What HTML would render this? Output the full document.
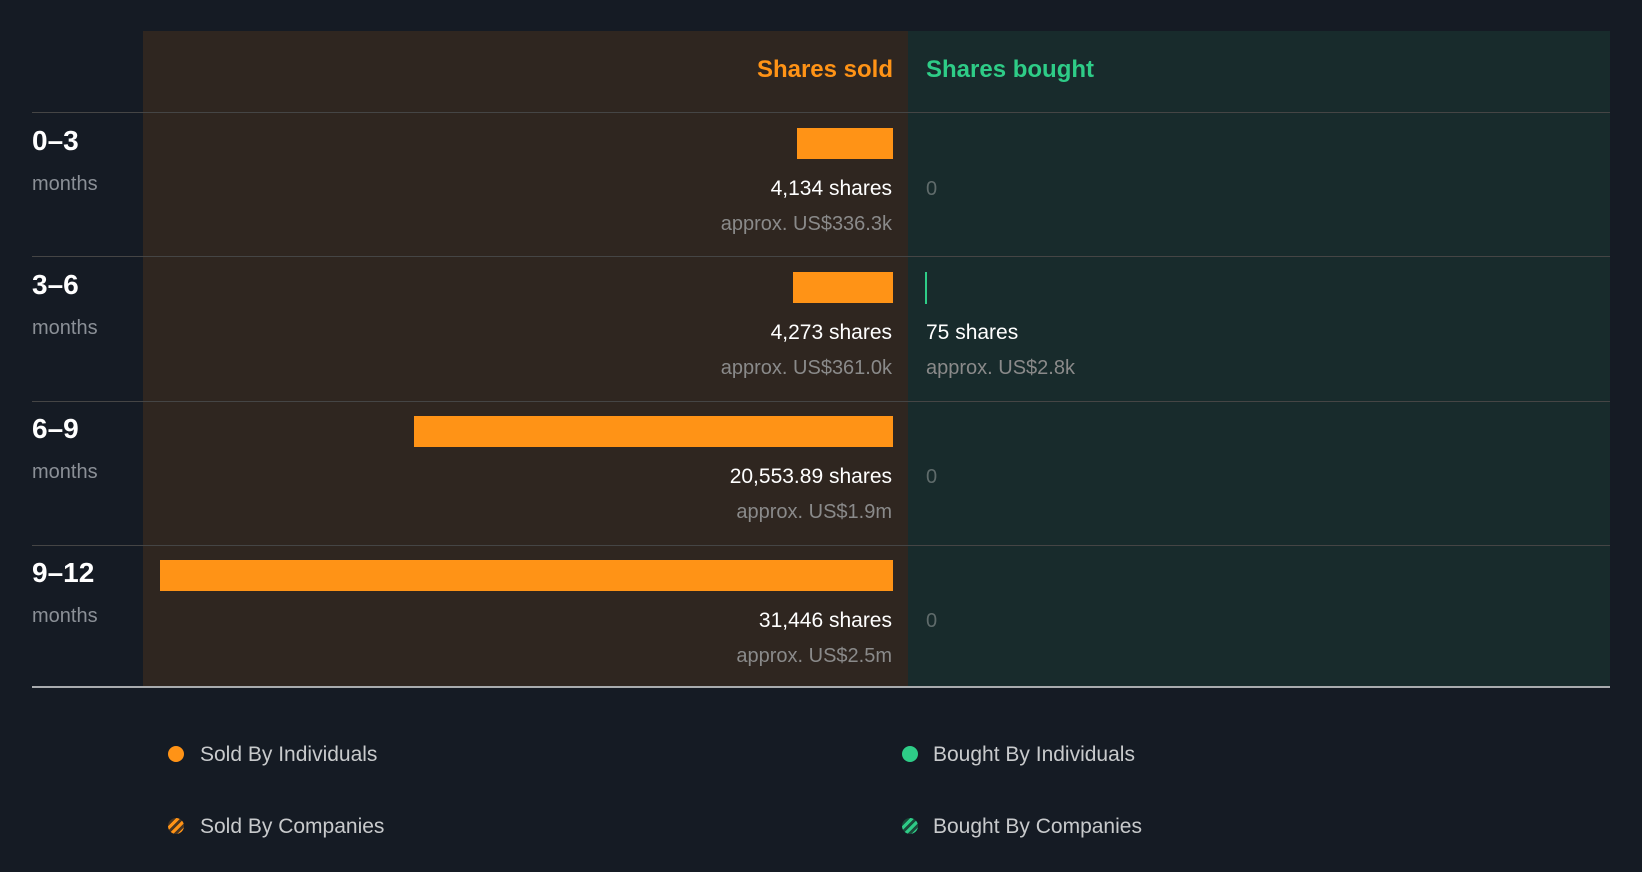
<!DOCTYPE html>
<html><head><meta charset="utf-8"><style>
*{margin:0;padding:0;box-sizing:border-box}
body{width:1642px;height:872px;background:#151b24;font-family:"Liberation Sans",sans-serif;position:relative;overflow:hidden}
div{position:absolute}
.t{white-space:nowrap;line-height:1}
.r{text-align:right;right:750px}
.w{color:#fff;font-size:21px}
.g{color:#8a8a8a;font-size:20px}
.lab{left:32px;color:#fff;font-size:28px;font-weight:bold}
.mo{left:32px;color:#8b9097;font-size:20px}
.bar{background:#ff9316;height:31px}
.hl{left:32px;width:1578px;height:1px;background:#454545}
.lg{color:#c8cacc;font-size:21px}
.dot{width:16px;height:16px;border-radius:50%}
</style></head><body>
<div style="left:143px;top:31px;width:765px;height:656px;background:#2f2620"></div>
<div style="left:908px;top:31px;width:702px;height:656px;background:#182b2c"></div>
<div class="t" style="right:749px;top:58px;color:#ff9316;font-size:24px;font-weight:bold">Shares sold</div>
<div class="t" style="left:926px;top:58px;color:#2ecc87;font-size:24px;font-weight:bold">Shares bought</div>
<div class="hl" style="top:112px"></div>
<div class="hl" style="top:256px"></div>
<div class="hl" style="top:401px"></div>
<div class="hl" style="top:545px"></div>
<div style="left:32px;top:686px;width:1578px;height:2px;background:#a8abae"></div>

<div class="t lab" style="top:127px">0–3</div><div class="t mo" style="top:174px">months</div>
<div class="t lab" style="top:271px">3–6</div><div class="t mo" style="top:318px">months</div>
<div class="t lab" style="top:415px">6–9</div><div class="t mo" style="top:462px">months</div>
<div class="t lab" style="top:559px">9–12</div><div class="t mo" style="top:606px">months</div>

<div class="bar" style="left:797px;top:128px;width:96px"></div>
<div class="bar" style="left:793px;top:272px;width:100px"></div>
<div class="bar" style="left:414px;top:416px;width:479px"></div>
<div class="bar" style="left:160px;top:560px;width:733px"></div>
<div style="left:925px;top:272px;width:2px;height:32px;background:#2ecc87"></div>

<div class="t r w" style="top:178px">4,134 shares</div>
<div class="t r g" style="top:214px">approx. US$336.3k</div>
<div class="t r w" style="top:322px">4,273 shares</div>
<div class="t r g" style="top:358px">approx. US$361.0k</div>
<div class="t r w" style="top:466px">20,553.89 shares</div>
<div class="t r g" style="top:502px">approx. US$1.9m</div>
<div class="t r w" style="top:610px">31,446 shares</div>
<div class="t r g" style="top:646px">approx. US$2.5m</div>

<div class="t" style="left:926px;top:179px;color:#5f6b6b;font-size:20px">0</div>
<div class="t w" style="left:926px;top:322px">75 shares</div>
<div class="t g" style="left:926px;top:358px">approx. US$2.8k</div>
<div class="t" style="left:926px;top:467px;color:#5f6b6b;font-size:20px">0</div>
<div class="t" style="left:926px;top:611px;color:#5f6b6b;font-size:20px">0</div>

<div class="dot" style="left:168px;top:746px;background:#ff9316"></div>
<div class="t lg" style="left:200px;top:744px">Sold By Individuals</div>
<div class="dot" style="left:168px;top:818px;background:repeating-linear-gradient(135deg,#ff9316 0 3px,#4a3520 3px 6px)"></div>
<div class="t lg" style="left:200px;top:816px">Sold By Companies</div>
<div class="dot" style="left:902px;top:746px;background:#2ecc87"></div>
<div class="t lg" style="left:933px;top:744px">Bought By Individuals</div>
<div class="dot" style="left:902px;top:818px;background:repeating-linear-gradient(135deg,#2ecc87 0 3px,#1a4a3a 3px 6px)"></div>
<div class="t lg" style="left:933px;top:816px">Bought By Companies</div>
</body></html>
